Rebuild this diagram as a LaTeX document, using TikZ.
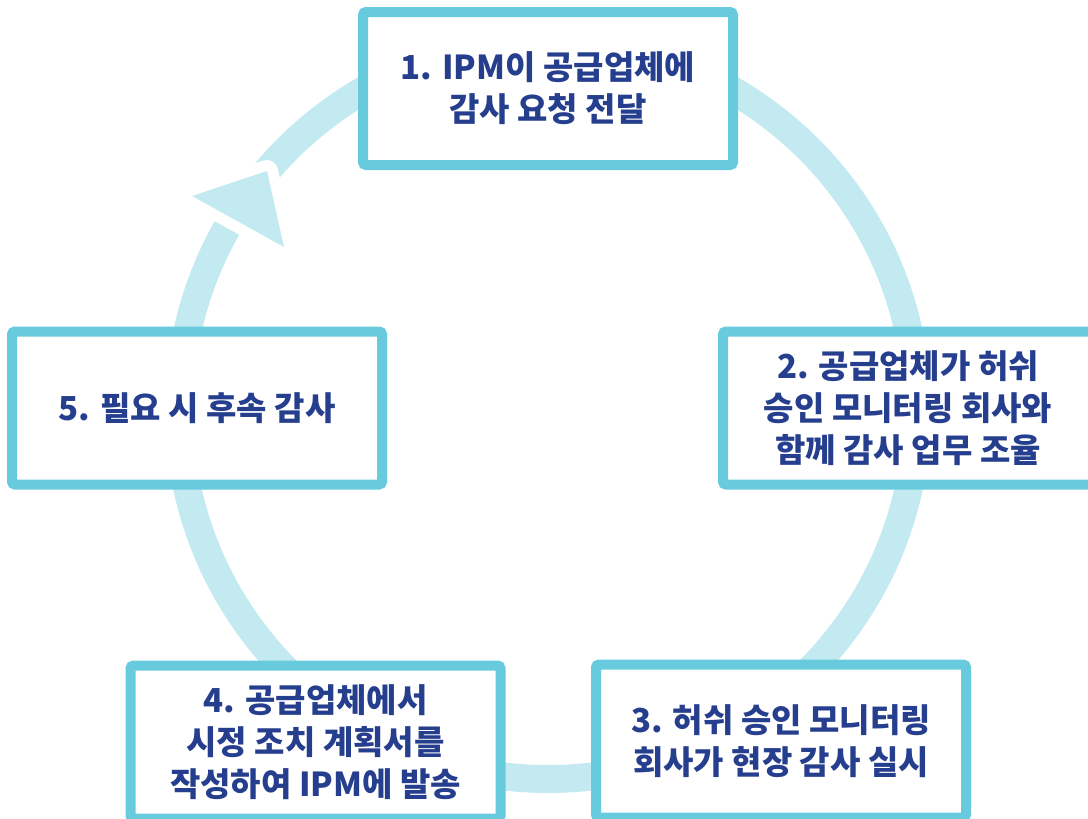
\documentclass[tikz,border=0pt]{standalone}
\usepackage{fontspec}
\setmainfont{Noto Sans CJK KR}
\definecolor{ringblue}{HTML}{C3EAF0}
\definecolor{boxblue}{HTML}{68CBDD}
\definecolor{textnavy}{HTML}{253E8E}

\begin{document}
\begin{tikzpicture}[x=1pt,y=-1pt]
      \tikzset{stepbox/.style={draw=boxblue,fill=white,line width=10pt,rounded corners=3pt,
                minimum width=370pt,minimum height=153pt,inner sep=0pt,align=center,
                text=textnavy,font=\fontsize{33}{42}\selectfont\bfseries}}
        \useasboundingbox (0,0) rectangle (1088,819);
        \clip (0,0) rectangle (1088,819);

        % the cycle ring
        \coordinate (mid) at (548,410);
        \draw[ringblue,line width=28pt] (mid) circle (369);

        % arrow head on the ring, with a white rim
        \coordinate (tip) at (267,171);
        \coordinate (bl) at (192,196);
        \coordinate (br) at (284,247);
        \draw[white,line width=22pt,line join=round] (tip)--(bl)--(br)--cycle;
        \fill[ringblue] (tip)--(bl)--(br)--cycle;

        \foreach \n/\x/\y/\txt in{1/548/88.5/{1. IPM이 공급업체에\\감사 요청 전달},
                                  2/908/408/{2. 공급업체가 허쉬\\승인 모니터링 회사와\\함께 감사 업무 조율},
                                  3/781/741/{3. 허쉬 승인 모니터링\\회사가 현장 감사 실시},
                                  4/315.5/742/{4. 공급업체에서\\시정 조치 계획서를\\작성하여 IPM에 발송},
                                  5/197/408/{5. 필요 시 후속 감사}}
        \node[stepbox] (box\n) at (\x,\y) {\txt};

    \end{tikzpicture}
\end{document}
